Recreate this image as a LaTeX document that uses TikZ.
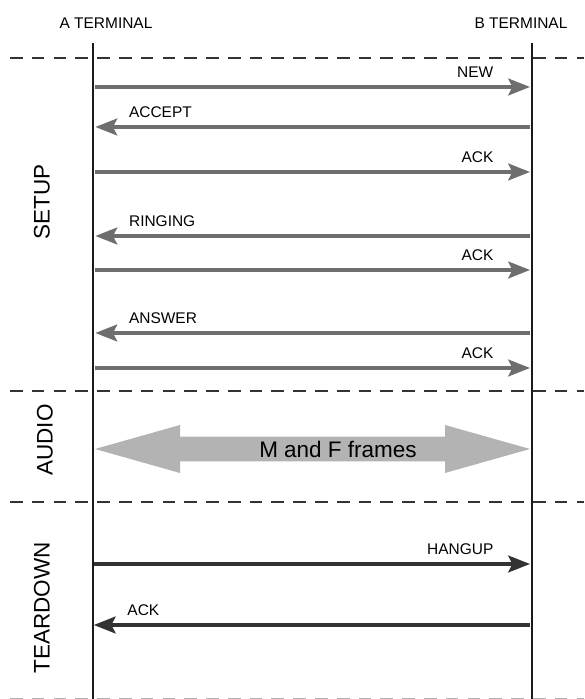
\documentclass[tikz,border=0pt]{standalone}
\usepackage{fontspec}
\setmainfont{Liberation Sans}
\usetikzlibrary{arrows.meta, calc}
\definecolor{cline}{HTML}{1A1A1A}
\definecolor{cmsg}{HTML}{6E6E6E}
\definecolor{cdark}{HTML}{333333}
\definecolor{cframe}{HTML}{B3B3B3}
\tikzset{
  every picture/.style={font=\fontsize{11}{13}\selectfont},
  lifeline/.style={draw=cline, line width=0.8pt},
  phase/.style={draw=cdark, line width=0.8pt, dash pattern=on 9pt off 6.5pt},
  msg/.style={-{Stealth[length=15.5pt, width=12pt, inset=3pt]}, draw=#1, line width=2.4pt},
  msg/.default=cmsg,
  rlab/.style={pos=1, anchor=base east, xshift=-0.875cm, yshift=0.23cm, inner sep=0pt},
  llab/.style={pos=1, anchor=base west, xshift=0.8cm, yshift=0.23cm, inner sep=0pt},
  phaselab/.style={rotate=90, font=\fontsize{16}{19}\selectfont},
  bigarrow/.style={fill=cframe},
}

\begin{document}
\begin{tikzpicture}
  \useasboundingbox (0,0) rectangle (14.6,17.475);
  \def\ax{2.325}
  \def\bx{13.3}
  % terminals
  \node (ta) at (2.65,16.9) {A TERMINAL};
  \node (tb) at (13.025,16.9) {B TERMINAL};
  \coordinate (atop) at (\ax,16.4);
  \coordinate (abot) at (\ax,0);
  \coordinate (btop) at (\bx,16.4);
  \coordinate (bbot) at (\bx,0);
  \draw[lifeline] (atop) -- (abot);
  \draw[lifeline] (btop) -- (bbot);
  % phase borders
  \foreach \y in {16.025,7.7,4.925}
    \draw[phase] (0.25,\y) -- (14.6,\y);
  \draw[phase, draw=cframe] (0.25,0) -- (14.6,0);
  % phase names
  \node[phaselab] (setup) at (1.05,12.425) {SETUP};
  \node[phaselab] (audio) at (1.125,6.475) {AUDIO};
  \node[phaselab] (teardown) at (1.05,2.275) {TEARDOWN};
  % setup messages
  \foreach \n/\y/\from/\to/\side/\txt in {new/15.3/a/b/rlab/NEW, accept/14.3/b/a/llab/ACCEPT,
      ack1/13.175/a/b/rlab/ACK, ringing/11.575/b/a/llab/RINGING, ack2/10.725/a/b/rlab/ACK,
      answer/9.15/b/a/llab/ANSWER, ack3/8.275/a/b/rlab/ACK} {
    \coordinate (a-\n) at (\ax+0.06,\y);
    \coordinate (b-\n) at (\bx-0.05,\y);
    \draw[msg] (\from-\n) -- (\to-\n) node[\side] (l-\n) {\txt};
  }
  % audio: M and F frames both ways
  \coordinate (fa) at (\ax+0.05,6.25);
  \coordinate (fb) at (\bx-0.05,6.25);
  \fill[bigarrow] (fa) -- ([shift={(2.125,0.6)}]fa) -- ([shift={(2.125,0.31)}]fa)
    -- ([shift={(-2.125,0.31)}]fb) -- ([shift={(-2.125,0.6)}]fb) -- (fb)
    -- ([shift={(-2.125,-0.6)}]fb) -- ([shift={(-2.125,-0.31)}]fb)
    -- ([shift={(2.125,-0.31)}]fa) -- ([shift={(2.125,-0.6)}]fa) -- cycle;
  \node[font=\fontsize{16}{19}\selectfont] (frames) at (8.45,6.25) {M and F frames};
  % teardown messages
  \foreach \n/\y/\from/\to/\side/\txt in {hangup/3.375/a/b/rlab/HANGUP, ack4/1.85/b/a/llab/ACK} {
    \coordinate (a-\n) at (\ax+0.02,\y);
    \coordinate (b-\n) at (\bx-0.05,\y);
    \draw[msg=cdark] (\from-\n) -- (\to-\n) node[\side] (l-\n) {\txt};
  }
\end{tikzpicture}
\end{document}
